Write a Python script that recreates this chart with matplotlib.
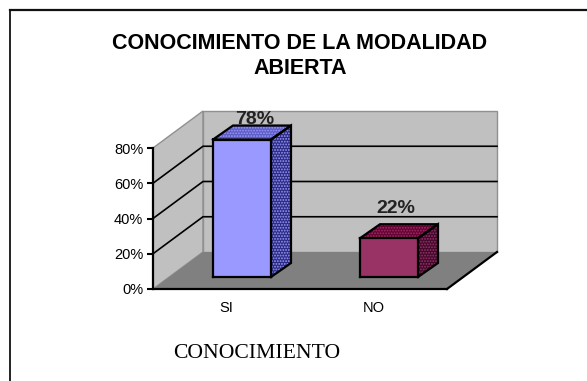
import matplotlib
matplotlib.use("Agg")
import matplotlib.pyplot as plt
from matplotlib.lines import Line2D

categorias = ["SI", "NO"]
valores = [78, 22]
etiquetas = ["78%", "22%"]
ticks_y = [0, 20, 40, 60, 80]
ticks_y_txt = ["0%", "20%", "40%", "60%", "80%"]
colores = ["#9999ff", "#993366"]
colores_lado = ["#2a2a80", "#40082a"]
colores_tapa = ["#5a5ac0", "#660033"]

titulo = "CONOCIMIENTO DE LA MODALIDAD\nABIERTA"
texto_abajo = "CONOCIMIENTO"

W, H = 587, 381

# profundidad de la caja, en unidades de los ejes
prof_x = 50 / 147
prof_y = 37 / (141 / 80)
# barra dentro de la caja
ancho = 58 / 147
despl_x = 15.5 / 147
despl_y = 12 / (141 / 80)
barra_x = 20 / 147
barra_y = 14 / (141 / 80)
# cuanto se mueve cada etiqueta sobre su barra, en puntos
sube = [-2, 5]
corre = [2, -2]

plt.rcParams["font.family"] = ["Liberation Sans", "DejaVu Sans"]
plt.rcParams["hatch.linewidth"] = 0.9

fig = plt.figure(figsize=(W / 100, H / 100), dpi=100, facecolor="white")
ax = fig.add_axes([153 / W, 1 - 289 / H, 294 / W, 141 / H])
ax.set_xlim(0, len(categorias))
ax.set_ylim(0, ticks_y[-1])
ax.patch.set_visible(False)


def cara(xs, ys, color, z, hatch=None, hatch_color=None, borde="black", lw=1.6):
    if hatch:
        ax.fill(xs, ys, facecolor=color, edgecolor=hatch_color, hatch=hatch,
                linewidth=0, zorder=z, clip_on=False)
    else:
        ax.fill(xs, ys, facecolor=color, edgecolor="none", zorder=z, clip_on=False)
    if borde:
        ax.plot(xs + xs[:1], ys + ys[:1], color=borde, lw=lw, zorder=z + 0.1,
                clip_on=False, solid_joinstyle="miter")


# paredes y piso
n = len(categorias)
tope = ticks_y[-1]
cara([0, prof_x, prof_x, 0], [0, prof_y, tope + prof_y, tope], "#c0c0c0", 1, borde="#909090", lw=1)
cara([prof_x, n + prof_x, n + prof_x, prof_x], [prof_y, prof_y, tope + prof_y, tope + prof_y],
     "#c0c0c0", 1, borde="#909090", lw=1)
cara([0, n, n + prof_x, prof_x], [0, 0, prof_y, prof_y], "#808080", 1.5, borde=None)

# lineas de la reja
for t in ticks_y[1:-1]:
    ax.plot([0, prof_x, n + prof_x], [t, t + prof_y, t + prof_y], color="black", lw=1.2,
            zorder=1.3, clip_on=False)
ax.plot([n, n + prof_x], [0, prof_y], color="black", lw=1.6, zorder=1.6, clip_on=False)

# barras
for i, v in enumerate(valores):
    x0 = i + 0.5 - ancho / 2 + despl_x
    x1 = x0 + ancho
    y0 = despl_y
    y1 = v + despl_y
    cara([x1, x1 + barra_x, x1 + barra_x, x1], [y0, y0 + barra_y, y1 + barra_y, y1],
         colores_lado[i], 3, hatch="......", hatch_color=colores[i])
    cara([x0, x1, x1 + barra_x, x0 + barra_x], [y1, y1, y1 + barra_y, y1 + barra_y],
         colores_tapa[i], 3, hatch="......", hatch_color=colores[i])
    cara([x0, x1, x1, x0], [y0, y0, y1, y1], colores[i], 4)
    ax.annotate(etiquetas[i], ((x0 + x1) / 2 + barra_x / 2, y1 + barra_y), xytext=(corre[i], sube[i]),
                textcoords="offset points", ha="center", va="bottom", fontsize=14,
                fontweight="bold", color="#222222", zorder=5, annotation_clip=False)

ax.set_xticks([i + 0.5 for i in range(n)])
ax.set_xticklabels(categorias, fontsize=10.5, color="black")
ax.set_yticks(ticks_y)
ax.set_yticklabels(ticks_y_txt, fontsize=10.5, color="black")
ax.tick_params(axis="x", length=0, pad=9)
ax.tick_params(axis="y", length=4, width=1.5, pad=3)
for lado in ["top", "right"]:
    ax.spines[lado].set_visible(False)
ax.spines["left"].set_linewidth(1.6)
ax.spines["bottom"].set_linewidth(1.6)
ax.spines["left"].set_zorder(6)
ax.spines["bottom"].set_zorder(2)

# titulo y texto de abajo
fig.text(300 / W, 1 - 56 / H, titulo, ha="center", va="center", fontsize=15.5, fontweight="bold",
         linespacing=1.25, color="black")
fig.text(257 / W, 1 - 353 / H, texto_abajo, ha="center", va="center", fontsize=15.6,
         family="Liberation Serif", color="black")

# marco de la pagina
fig.add_artist(Line2D([10 / W, 10 / W], [0, 1 - 10 / H], color="#222222", lw=1.4))
fig.add_artist(Line2D([10 / W, 1], [1 - 10 / H, 1 - 10 / H], color="#111111", lw=1.6))

fig.savefig("out.png", dpi=100, facecolor="white")
